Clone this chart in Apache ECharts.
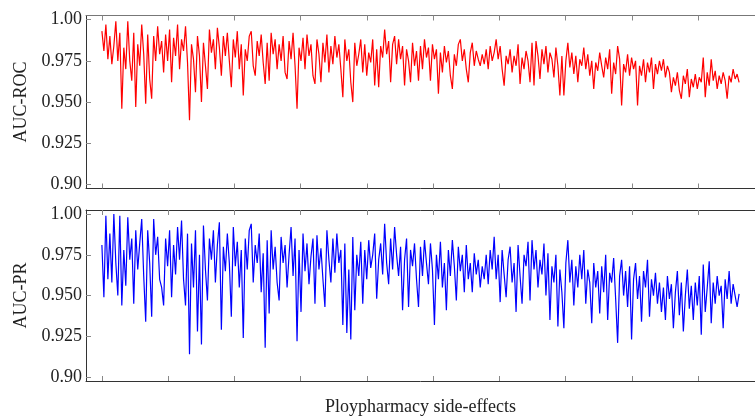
<!DOCTYPE html>
<html>
<head>
<meta charset="utf-8">
<script src="https://cdn.jsdelivr.net/npm/echarts@6/dist/echarts.min.js"></script>
<style>html,body{margin:0;padding:0;background:#fff}#c{width:755px;height:417px}</style>
</head>
<body>
<div id="c"></div>
<script>
// ---- data ----
const sideEffectCount = 963;
const xTicks = [0,100,200,300,400,500,600,700,800,900];
const yTicks = [0.9,0.925,0.95,0.975,1.0];
const yTickLabels = ["0.90","0.925","0.950","0.975","1.00"];
const topTitle = "AUC-ROC";
const bottomTitle = "AUC-PR";
const xTitle = "Ploypharmacy side-effects";

const aucRoc = [
0.993,0.981,0.997,0.976,0.990,0.973,0.984,0.999,0.975,0.992,0.946,0.983,0.970,0.999,0.975,0.963,0.992,0.947,0.985,0.972,0.997,0.979,0.949,0.991,0.964,0.952,0.990,0.975,0.996,0.979,0.987,0.968,0.991,
0.975,0.994,0.962,0.989,0.978,0.997,0.970,0.988,0.981,0.996,0.974,0.939,0.985,0.976,0.956,0.990,0.978,0.950,0.986,0.972,0.958,0.994,0.980,0.988,0.970,0.995,0.983,0.966,0.990,0.978,0.992,0.975,0.959,
0.988,0.977,0.993,0.970,0.985,0.954,0.982,0.975,0.990,0.993,0.972,0.966,0.987,0.978,0.991,0.974,0.961,0.986,0.963,0.992,0.979,0.988,0.970,0.985,0.975,0.990,0.968,0.964,0.987,0.976,0.992,0.972,0.946,
0.983,0.975,0.989,0.970,0.991,0.978,0.985,0.966,0.961,0.988,0.979,0.962,0.986,0.974,0.991,0.968,0.984,0.973,0.990,0.977,0.985,0.970,0.953,0.988,0.975,0.982,0.962,0.950,0.986,0.972,0.979,0.988,0.968,
0.985,0.966,0.980,0.974,0.988,0.960,0.982,0.959,0.984,0.977,0.994,0.979,0.987,0.962,0.985,0.990,0.973,0.988,0.976,0.984,0.960,0.982,0.975,0.962,0.986,0.972,0.981,0.963,0.984,0.970,0.988,0.977,0.983,0.963,
0.985,0.976,0.982,0.955,0.980,0.968,0.984,0.974,0.981,0.966,0.958,0.979,0.972,0.985,0.988,0.975,0.982,0.970,0.962,0.980,0.986,0.972,0.981,0.976,0.972,0.979,0.973,0.982,0.970,0.984,0.975,0.980,0.988,
0.976,0.984,0.970,0.960,0.978,0.973,0.982,0.968,0.978,0.972,0.985,0.961,0.977,0.970,0.981,0.975,0.962,0.986,0.960,0.987,0.978,0.964,0.982,0.973,0.984,0.968,0.980,0.976,0.965,0.983,0.972,0.954,0.978,
0.954,0.975,0.986,0.971,0.980,0.967,0.978,0.962,0.976,0.972,0.983,0.970,0.979,0.966,0.975,0.958,0.974,0.969,0.980,0.972,0.965,0.977,0.970,0.982,0.955,0.974,0.967,0.984,0.976,0.948,0.973,0.968,0.979,
0.966,0.977,0.970,0.975,0.948,0.972,0.966,0.976,0.962,0.974,0.968,0.977,0.958,0.973,0.967,0.975,0.969,0.976,0.965,0.972,0.968,0.956,0.965,0.960,0.968,0.957,0.952,0.966,0.961,0.970,0.953,0.964,0.959,
0.967,0.958,0.965,0.962,0.977,0.953,0.968,0.960,0.976,0.963,0.969,0.958,0.966,0.961,0.968,0.963,0.952,0.966,0.962,0.970,0.964,0.967,0.962
];

const aucPr = [
0.981,0.949,0.999,0.960,0.988,0.958,1.000,0.970,0.950,0.999,0.944,0.978,0.956,0.998,0.972,0.985,0.945,0.990,0.966,0.982,0.997,0.962,0.934,0.990,0.970,0.937,0.997,0.975,0.986,0.960,0.955,0.944,0.985,
0.968,0.990,0.949,0.981,0.963,0.992,0.972,0.996,0.960,0.944,0.988,0.914,0.982,0.955,0.990,0.928,0.975,0.920,0.993,0.966,0.947,0.985,0.972,0.990,0.958,0.981,0.995,0.929,0.980,0.965,0.988,0.970,0.937,
0.992,0.968,0.983,0.955,0.978,0.924,0.985,0.966,0.990,0.994,0.958,0.981,0.970,0.988,0.952,0.976,0.918,0.984,0.939,0.990,0.966,0.980,0.958,0.947,0.986,0.970,0.981,0.955,0.975,0.992,0.962,0.985,0.922,
0.978,0.940,0.988,0.965,0.982,0.957,0.974,0.985,0.945,0.987,0.966,0.979,0.960,0.943,0.990,0.972,0.958,0.985,0.964,0.988,0.970,0.978,0.932,0.982,0.927,0.966,0.923,0.986,0.941,0.975,0.962,0.983,0.945,
0.978,0.960,0.984,0.967,0.975,0.988,0.948,0.972,0.982,0.963,0.994,0.970,0.957,0.985,0.966,0.992,0.975,0.962,0.980,0.941,0.972,0.985,0.943,0.978,0.968,0.982,0.960,0.943,0.980,0.962,0.984,0.970,0.957,0.982,
0.966,0.932,0.975,0.960,0.983,0.955,0.970,0.941,0.978,0.962,0.984,0.968,0.947,0.980,0.965,0.975,0.952,0.981,0.960,0.970,0.952,0.976,0.963,0.972,0.955,0.968,0.960,0.975,0.957,0.978,0.966,0.986,0.960,
0.975,0.946,0.978,0.963,0.949,0.972,0.980,0.958,0.970,0.940,0.981,0.962,0.945,0.975,0.968,0.983,0.947,0.984,0.966,0.978,0.955,0.972,0.963,0.982,0.950,0.976,0.935,0.968,0.958,0.975,0.931,0.966,0.952,
0.930,0.970,0.984,0.958,0.972,0.944,0.968,0.955,0.975,0.960,0.978,0.945,0.966,0.958,0.933,0.970,0.955,0.965,0.939,0.968,0.952,0.975,0.935,0.964,0.958,0.973,0.948,0.921,0.962,0.972,0.950,0.965,0.943,
0.968,0.923,0.960,0.970,0.948,0.962,0.934,0.965,0.955,0.972,0.937,0.960,0.950,0.964,0.945,0.958,0.940,0.955,0.935,0.962,0.948,0.957,0.930,0.952,0.965,0.938,0.958,0.928,0.950,0.966,0.942,0.956,0.935,
0.958,0.944,0.962,0.926,0.969,0.940,0.955,0.971,0.933,0.958,0.945,0.962,0.950,0.956,0.930,0.960,0.948,0.965,0.945,0.957,0.950,0.943,0.951
];

// ---- build ----
function toPairs(vals){
  const step = (sideEffectCount - 1) / (vals.length - 1);
  return vals.map((v,i)=>[i*step, v]);
}

const FONT = 'Liberation Serif';
const TXT = '#222';
const FS = 18;
const X_MIN = -24, X_MAX = 986;
const Y_MIN = 0.8976, Y_MAX = 1.0025;
const grids = [
  {left:86, top:15.5, width:679, height:173},
  {left:86, top:210, width:679, height:173}
];

function xAxisPair(gi, withName){
  return [
    {
      type:'value', gridIndex:gi, position:'bottom', min:X_MIN, max:X_MAX,
      axisLine:{show:true, onZero:false, lineStyle:{color:'#333', width:1}},
      axisTick:{show:true, inside:true, length:5, customValues:xTicks, lineStyle:{color:'#888'}},
      axisLabel:{show:false}, splitLine:{show:false},
      name: withName ? xTitle : '', nameLocation:'middle', nameGap:17,
      nameTextStyle:{fontFamily:FONT, fontSize:FS, color:TXT}
    },
    {
      type:'value', gridIndex:gi, position:'top', min:X_MIN, max:X_MAX,
      axisLine:{show:true, onZero:false, lineStyle:{color: gi===0 ? '#777' : '#333', width:1}},
      axisTick:{show:true, inside:true, length:5, customValues:xTicks, lineStyle:{color:'#888'}},
      axisLabel:{show:false}, splitLine:{show:false}
    }
  ];
}
function yAxis(gi, title){
  return {
    type:'value', gridIndex:gi, position:'left', min:Y_MIN, max:Y_MAX,
    axisLine:{show:true, onZero:false, lineStyle:{color:'#333', width:1}},
    axisTick:{show:true, inside:true, length:5, customValues:yTicks, lineStyle:{color:'#888'}},
    axisLabel:{show:true, customValues:yTicks, margin:4, fontFamily:FONT, fontSize:FS, color:TXT,
      formatter:(v)=>{ const i = yTicks.findIndex(t=>Math.abs(t-v)<1e-6); return i>=0 ? yTickLabels[i] : ''; }},
    splitLine:{show:false},
    name:title, nameLocation:'middle', nameGap:56, nameRotate:90,
    nameTextStyle:{fontFamily:FONT, fontSize:FS, color:TXT}
  };
}

const chart = echarts.init(document.getElementById('c'), null, {renderer:'canvas'});
chart.setOption({
  animation:false,
  backgroundColor:'#fff',
  grid: grids,
  xAxis: [...xAxisPair(0,false), ...xAxisPair(1,true)],
  yAxis: [yAxis(0, topTitle), yAxis(1, bottomTitle)],
  series: [
    {type:'line', xAxisIndex:0, yAxisIndex:0, data:toPairs(aucRoc), showSymbol:false, symbol:'none',
     lineStyle:{color:'#ff0000', width:1.2}, clip:true},
    {type:'line', xAxisIndex:2, yAxisIndex:1, data:toPairs(aucPr), showSymbol:false, symbol:'none',
     lineStyle:{color:'#0000ff', width:1.2}, clip:true}
  ]
});
</script>
</body>
</html>
